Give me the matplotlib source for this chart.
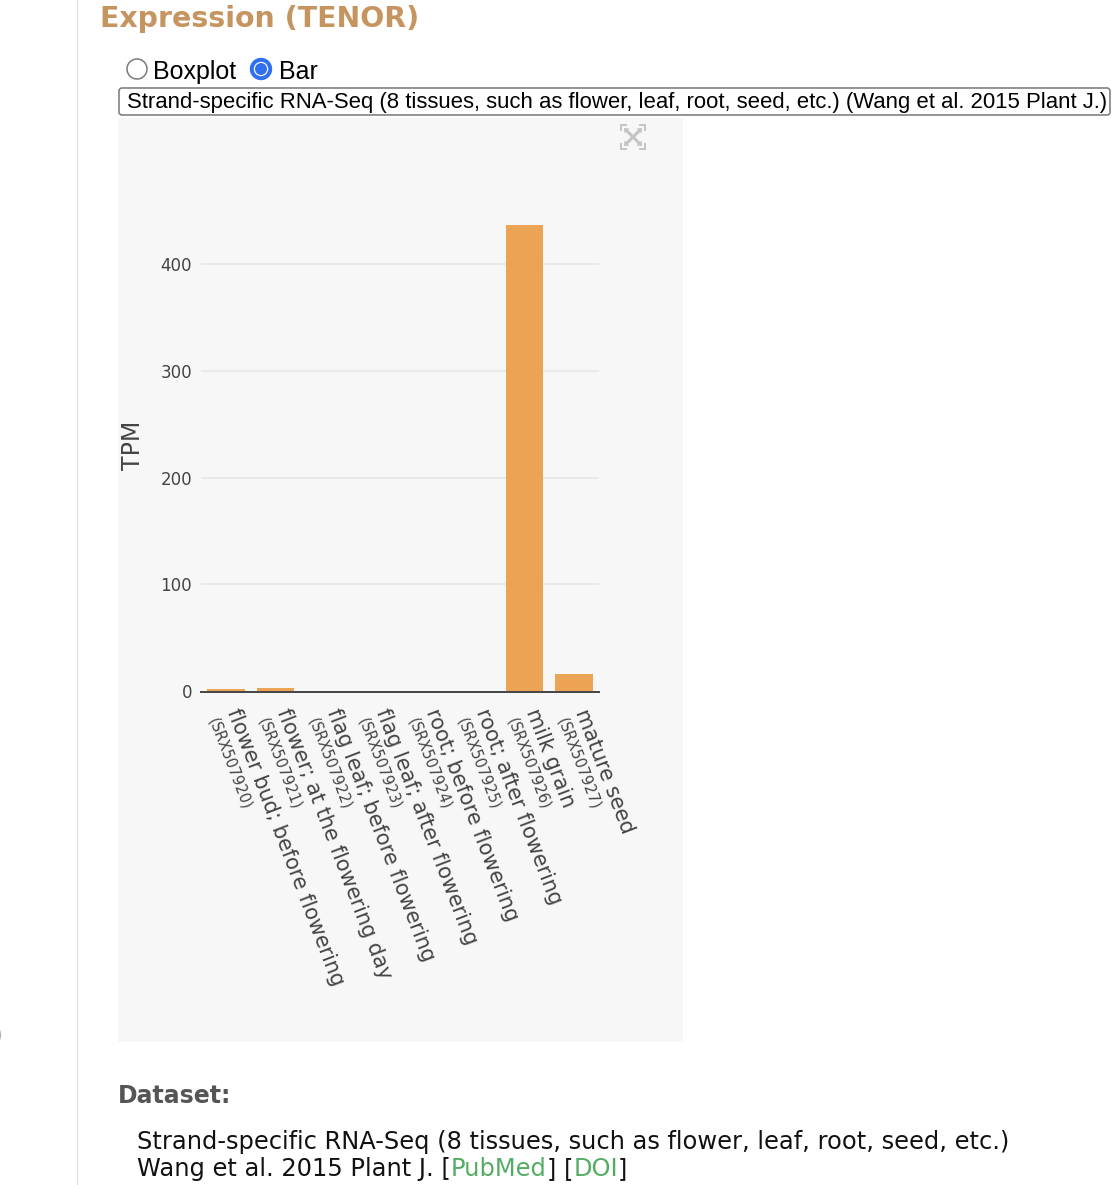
import matplotlib
matplotlib.use("Agg")
import matplotlib.pyplot as plt
import matplotlib.transforms as mtransforms
from matplotlib.patches import Rectangle, Circle, FancyBboxPatch, Polygon, Arc

# data
tissues = [
    "flower bud; before flowering",
    "flower; at the flowering day",
    "flag leaf; before flowering",
    "flag leaf; after flowering",
    "root; before flowering",
    "root; after flowering",
    "milk grain",
    "mature seed",
]
accessions = [
    "(SRX507920)", "(SRX507921)", "(SRX507922)", "(SRX507923)",
    "(SRX507924)", "(SRX507925)", "(SRX507926)", "(SRX507927)",
]
tpm = [1.9, 3.1, 0.0, 0.0, 0.0, 0.0, 437.0, 15.6]
y_ticks = [0, 100, 200, 300, 400]

dataset_title = "Strand-specific RNA-Seq (8 tissues, such as flower, leaf, root, seed, etc.)"
dataset_ref = "Wang et al. 2015 Plant J."

W, H = 1112, 1185
fig = plt.figure(figsize=(W / 100, H / 100), dpi=100)
fig.patch.set_facecolor("white")

# page layer, drawn in pixel coordinates
bg = fig.add_axes([0, 0, 1, 1], zorder=0)
bg.set_xlim(0, W)
bg.set_ylim(H, 0)
bg.axis("off")

bg.plot([77, 77], [0, H], color="#e2e2e2", lw=1.0)
bg.add_patch(Arc((-6, 1035), 12, 20, theta1=-70, theta2=70, color="#999999", lw=1.2))

bg.text(100, 27, "Expression (TENOR)", fontsize=20.4, fontweight="bold",
        color="#c6945f", va="baseline", ha="left")

# radio buttons
bg.add_patch(Circle((137, 69), 10, facecolor="white", edgecolor="#7a7a7a", lw=1.1))
bg.text(153, 79, "Boxplot", fontsize=18, family="Liberation Sans", va="baseline")
bg.add_patch(Circle((261, 69), 10.5, facecolor="#2f6ff0", edgecolor="#2f6ff0", lw=1))
bg.add_patch(Circle((261, 69), 7.2, facecolor="white", edgecolor="none"))
bg.add_patch(Circle((261, 69), 6.0, facecolor="#2f6ff0", edgecolor="none"))
bg.text(279, 79, "Bar", fontsize=18, family="Liberation Sans", va="baseline")

# select box
bg.add_patch(FancyBboxPatch((119, 88), 991, 27, boxstyle="round,pad=0,rounding_size=3",
                            facecolor="white", edgecolor="#777777", lw=1.1))
bg.text(127, 108, dataset_title + " (" + dataset_ref + ")", fontsize=15.9,
        family="Liberation Sans", va="baseline")

# plot panel background
bg.add_patch(Rectangle((118, 118), 565, 924, facecolor="#f7f7f7", edgecolor="none"))

# modebar autoscale icon
ic = "#c4c4c4"
cx, cy, r = 633, 137, 12
for sx in (-1, 1):
    for sy in (-1, 1):
        x0, y0 = cx + sx * r, cy + sy * r
        bg.plot([x0, x0 - sx * 5], [y0, y0], color=ic, lw=1.4)
        bg.plot([x0, x0], [y0, y0 - sy * 5], color=ic, lw=1.4)
        bg.plot([cx, cx + sx * 6], [cy, cy + sy * 6], color=ic, lw=2.2)
        tip = (cx + sx * 9, cy + sy * 9)
        bg.add_patch(Polygon([tip, (cx + sx * 3.5, cy + sy * 8.5), (cx + sx * 8.5, cy + sy * 3.5)],
                             closed=True, facecolor=ic, edgecolor="none"))

# chart
ax = fig.add_axes([200.7 / W, (H - 691) / H, 398.6 / W, 491 / H], zorder=1)
ax.patch.set_alpha(0)
x = list(range(len(tpm)))
ax.bar(x, tpm, width=0.76, color="#eba354", zorder=2)
ax.set_xlim(-0.5, len(tpm) - 0.5)
ax.set_ylim(0, 460.3)
for v in y_ticks[1:]:
    ax.axhline(v, color="#e6e6e6", lw=1.1, zorder=1)
# zero line, nudged one pixel down so the tiny bars stay visible
shift = mtransforms.ScaledTranslation(0, -1 / 100, fig.dpi_scale_trans)
ax.plot([0, 1], [0, 0], color="#444444", lw=1.4, zorder=3, clip_on=False,
        transform=ax.get_yaxis_transform() + shift)
for s in ax.spines.values():
    s.set_visible(False)
ax.set_yticks(y_ticks)
ax.set_yticklabels([str(v) for v in y_ticks])
ax.tick_params(axis="y", length=0, pad=6.3, labelsize=12, labelcolor="#444444")
ax.set_xticks([])
ax.set_ylabel("TPM", fontsize=17, color="#444444", labelpad=11)

for i in x:
    ax.annotate(tissues[i], xy=(i, 0), xycoords="data", xytext=(16, -15),
                textcoords="offset pixels", rotation=-69, rotation_mode="anchor",
                ha="left", va="top", fontsize=15, color="#444444")
    ax.annotate(accessions[i], xy=(i, 0), xycoords="data", xytext=(-6, -24.5),
                textcoords="offset pixels", rotation=-69, rotation_mode="anchor",
                ha="left", va="top", fontsize=10.5, color="#444444")

# dataset block
bg.text(118, 1103, "Dataset:", fontsize=17, fontweight="bold", color="#555555",
        va="baseline")
bg.text(137, 1149, dataset_title, fontsize=17.4, color="#111111", va="baseline")
green = "#52ad62"
pieces = [(dataset_ref + " [", "#111111"), ("PubMed", green), ("] [", "#111111"),
          ("DOI", green), ("]", "#111111")]
prev = bg.text(137, 1176, pieces[0][0], fontsize=17.4, color=pieces[0][1], va="baseline")
for txt, col in pieces[1:]:
    prev = bg.annotate(txt, xy=(1, 0), xycoords=prev, va="bottom", ha="left",
                       fontsize=17.4, color=col)

fig.savefig("out.png", dpi=100)
